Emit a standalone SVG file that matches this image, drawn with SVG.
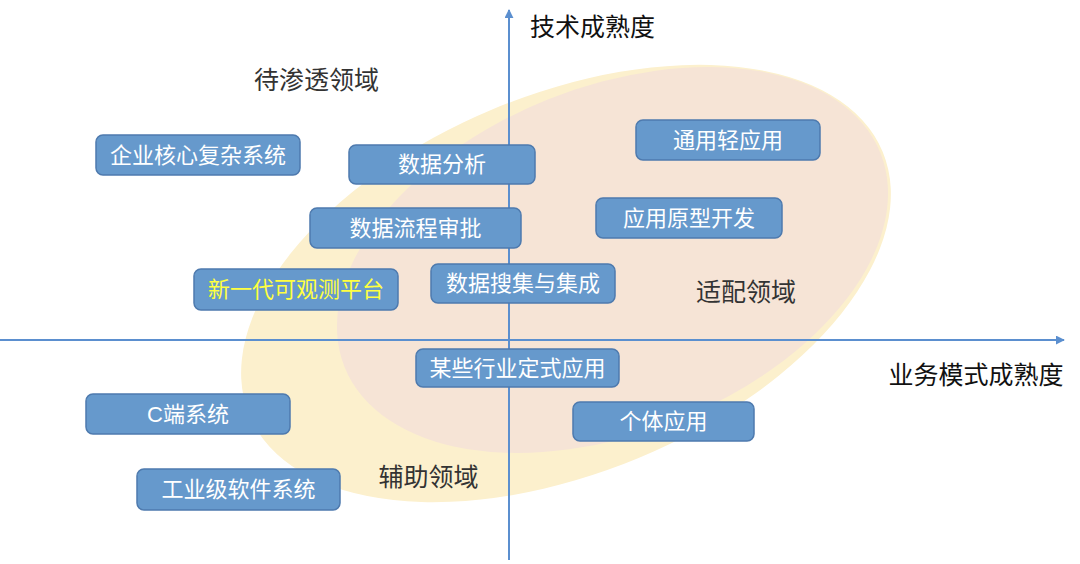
<svg xmlns="http://www.w3.org/2000/svg" width="1080" height="564" viewBox="0 0 1080 564">
  <style>
    .box rect { fill: #6699CC; stroke: #4E7AAE; stroke-width: 1.5; }
    .box text { font-family: "Liberation Sans", "Noto Sans CJK SC", sans-serif; font-size: 22px; fill: #FFFFFF; text-anchor: middle; dominant-baseline: central; }
    .lbl { font-family: "Liberation Sans", "Noto Sans CJK SC", sans-serif; font-size: 25px; fill: #333333; text-anchor: middle; dominant-baseline: central; }
    .axis { stroke: #5B8FCF; stroke-width: 2; fill: none; }
  </style>
  <defs>
    <marker id="arr" viewBox="0 0 10 10" refX="9" refY="5" markerWidth="4.5" markerHeight="4.5" orient="auto" markerUnits="strokeWidth">
      <path d="M0,0 L10,5 L0,10 z" fill="#5B8FCF"/>
    </marker>
  </defs>
  <rect width="1080" height="564" fill="#FFFFFF"/>
  <g id="regions">
    <ellipse id="assist-region" cx="566" cy="283.5" rx="343" ry="189" transform="rotate(-22.6 566 283.5)" fill="#FCF0CD"/>
    <ellipse id="fit-region" cx="612.5" cy="260" rx="288.5" ry="173" transform="rotate(-21.75 612.5 260)" fill="#F6E4D6"/>
  </g>
  <g id="connectors">
    <line class="axis" x1="509" y1="560" x2="509" y2="10" marker-end="url(#arr)"/>
    <line class="axis" x1="0" y1="340" x2="1064" y2="340" marker-end="url(#arr)"/>
  </g>
  <g id="n1" class="box"><rect x="96" y="135" width="204" height="40" rx="7"/><text x="198" y="155">企业核心复杂系统</text></g>
  <g id="n2" class="box"><rect x="349" y="145" width="186" height="39" rx="7"/><text x="442" y="164.5">数据分析</text></g>
  <g id="n3" class="box"><rect x="310" y="208" width="211" height="40" rx="7"/><text x="415.5" y="228">数据流程审批</text></g>
  <g id="n4" class="box"><rect x="194" y="269" width="204" height="41" rx="7"/><text x="296" y="289.5" style="fill:#FFFF40">新一代可观测平台</text></g>
  <g id="n5" class="box"><rect x="431" y="264" width="184" height="39" rx="7"/><text x="523" y="283.5">数据搜集与集成</text></g>
  <g id="n6" class="box"><rect x="636" y="120" width="184" height="40" rx="7"/><text x="728" y="140">通用轻应用</text></g>
  <g id="n7" class="box"><rect x="596" y="198" width="186" height="40" rx="7"/><text x="689" y="218">应用原型开发</text></g>
  <g id="n8" class="box"><rect x="416" y="349" width="203" height="38" rx="7"/><text x="517.5" y="368">某些行业定式应用</text></g>
  <g id="n9" class="box"><rect x="573" y="402" width="181" height="39" rx="7"/><text x="663.5" y="421.5">个体应用</text></g>
  <g id="n10" class="box"><rect x="86" y="394" width="204" height="40" rx="7"/><text x="188" y="414">C端系统</text></g>
  <g id="n11" class="box"><rect x="137" y="469" width="203" height="41" rx="7"/><text x="238.5" y="489.5">工业级软件系统</text></g>
  <g id="labels">
    <text class="lbl" x="316.5" y="80">待渗透领域</text>
    <text class="lbl" x="592.5" y="27" style="fill:#111111">技术成熟度</text>
    <text class="lbl" x="746" y="292">适配领域</text>
    <text class="lbl" x="428.5" y="477">辅助领域</text>
    <text class="lbl" x="976" y="375" style="fill:#111111">业务模式成熟度</text>
  </g>
</svg>
